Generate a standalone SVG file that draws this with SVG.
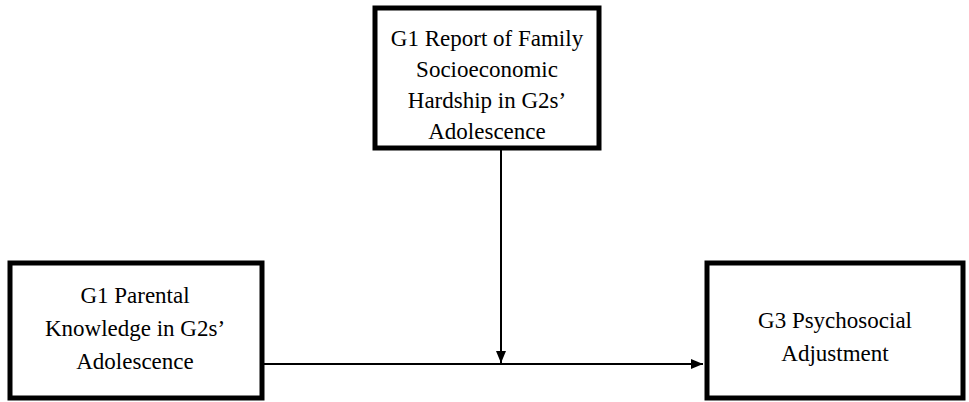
<svg xmlns="http://www.w3.org/2000/svg" width="969" height="402" viewBox="0 0 969 402">
<style>
.box{fill:#fff;stroke:#000;stroke-width:5}
.t{font-family:'Liberation Serif','Tinos','Nimbus Roman','Times New Roman','DejaVu Serif',serif;font-size:23px;fill:#000;text-anchor:middle}
.c{stroke:#000;stroke-width:2;fill:none}
</style>
<defs>
<marker id="ah" markerWidth="12" markerHeight="10" refX="12" refY="5" orient="auto" markerUnits="userSpaceOnUse">
<path d="M0,0 L12,5 L0,10 Z" fill="#000"/>
</marker>
</defs>
<rect width="969" height="402" fill="#fff"/>
<g id="connectors">
<line class="c" x1="264" y1="364" x2="703" y2="364" marker-end="url(#ah)"/>
<line class="c" x1="501" y1="149" x2="501" y2="363" marker-end="url(#ah)"/>
</g>
<g id="node-hardship">
<rect class="box" x="375" y="8" width="224" height="140"/>
<text class="t" x="487" y="46">G1 Report of Family</text>
<text class="t" x="487" y="77">Socioeconomic</text>
<text class="t" x="487" y="108">Hardship in G2s’</text>
<text class="t" x="487" y="139">Adolescence</text>
</g>
<g id="node-parental">
<rect class="box" x="10" y="263" width="252" height="135"/>
<text class="t" x="135" y="303">G1 Parental</text>
<text class="t" x="135" y="336">Knowledge in G2s’</text>
<text class="t" x="135" y="369">Adolescence</text>
</g>
<g id="node-g3">
<rect class="box" x="707" y="263" width="256" height="135"/>
<text class="t" x="835" y="328">G3 Psychosocial</text>
<text class="t" x="835" y="361">Adjustment</text>
</g>
</svg>
